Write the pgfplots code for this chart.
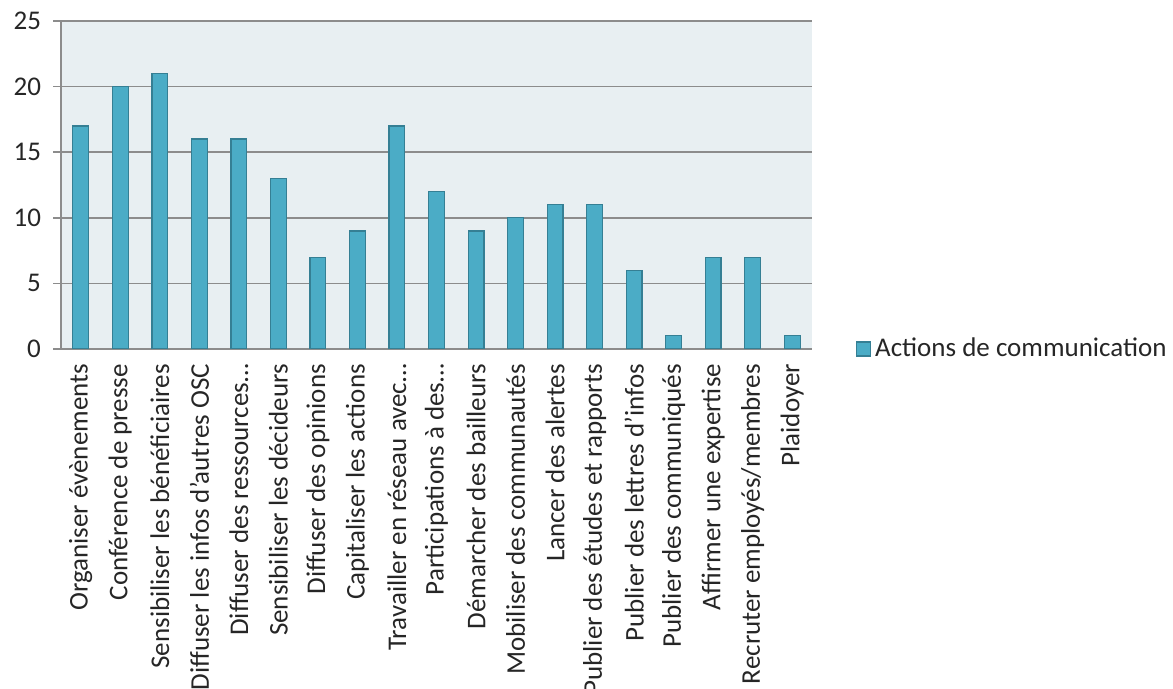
\documentclass[border=0pt]{standalone}
\usepackage{pgfplots}
\pgfplotsset{compat=1.18}
\usepackage{fontspec}
\setmainfont{Carlito}

\definecolor{barfill}{HTML}{4BACC6}
\definecolor{baredge}{HTML}{357F94}
\definecolor{plotbg}{HTML}{E8EFF2}
\definecolor{gridcol}{HTML}{8C8C8C}

\begin{document}
\begin{tikzpicture}
\begin{axis}[
    at={(30.5pt,170pt)}, anchor=south west,
    scale only axis,
    width=375.5pt, height=164pt,
    ybar, bar width=7.9pt,
    xmin=-0.5, xmax=18.5,
    ymin=0, ymax=25,
    ytick={0,5,10,15,20,25},
    xtick={0,...,18},
    xticklabels={Organiser évènements, Conférence de presse, Sensibiliser les bénéficiaires,
        Diffuser les infos d'autres OSC, Diffuser des ressources\dots, Sensibiliser les décideurs,
        Diffuser des opinions, Capitaliser les actions, Travailler en réseau avec\dots,
        Participations à des\dots, Démarcher des bailleurs, Mobiliser des communautés,
        Lancer des alertes, Publier des études et rapports, Publier des lettres d'infos,
        Publier des communiqués, Affirmer une expertise, Recruter employés/membres, Plaidoyer},
    x tick style={draw=none},
    extra x ticks={-0.5,0.5,...,18.5},
    extra x tick labels={},
    extra x tick style={grid=none, tick style={draw=gridcol, line width=0.8pt}, major tick length=4pt, tick align=outside},
    y tick style={draw=gridcol, line width=0.8pt},
    major tick length=4pt, tick align=outside,
    ymajorgrids=true,
    grid style={gridcol, line width=0.8pt},
    axis x line*=bottom, axis y line*=left,
    axis line style={draw=gridcol, line width=0.8pt, -},
    axis background/.style={fill=plotbg},
    tick label style={font=\fontsize{13.5}{16}\selectfont, text=black!85},
    y tick label style={xshift=-2.5pt},
    x tick label style={rotate=90, anchor=east, yshift=0pt},
    /pgf/number format/assume math mode=true,
    legend style={at={(axis description cs:1.05,0)}, anchor=west, draw=none, fill=none,
        font=\fontsize{13.5}{16}\selectfont, text=black!85},
    legend image code/.code={\draw[#1, fill=barfill, draw=baredge] (0pt,-3.5pt) rectangle (7pt,3.5pt);},
]
\addplot[fill=barfill, draw=baredge, line width=0.6pt] coordinates {
    (0,17) (1,20) (2,21) (3,16) (4,16) (5,13) (6,7) (7,9) (8,17) (9,12)
    (10,9) (11,10) (12,11) (13,11) (14,6) (15,1) (16,7) (17,7) (18,1)
};
\addlegendentry{Actions de communication}
\end{axis}
\pgfresetboundingbox
\path[use as bounding box] (0,0) rectangle (586.5pt,344.5pt);
\end{tikzpicture}
\end{document}
